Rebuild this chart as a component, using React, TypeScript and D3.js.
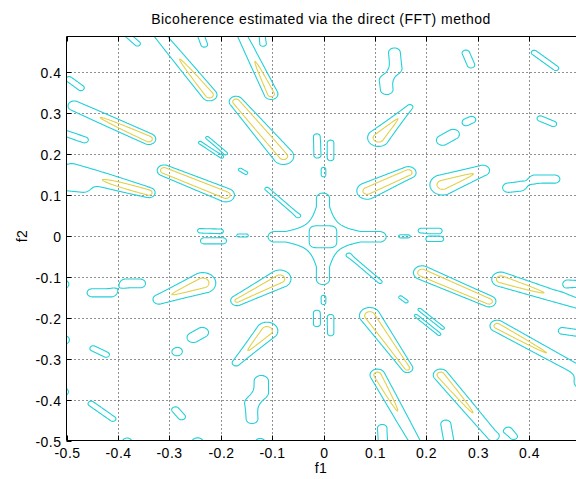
import React, { useMemo } from "react";
import * as d3 from "d3";

// ---------- data ----------
const titleText = "Bicoherence estimated via the direct (FFT) method";
const xLabel = "f1";
const yLabel = "f2";
const xTicks = [-0.5, -0.4, -0.3, -0.2, -0.1, 0, 0.1, 0.2, 0.3, 0.4];
const yTicks = [-0.5, -0.4, -0.3, -0.2, -0.1, 0, 0.1, 0.2, 0.3, 0.4];
const xDomain = [-0.5, 0.5];
const yDomain = [-0.5, 0.4875];
const contourLevels = [0.5, 0.8]; // outer (cyan) and inner (yellow)

// strong ridges: [f1 start, f2 start, f1 end, f2 end, width start, width end, peak start, peak end]
const strongRidges: number[][] = [
  [-0.338, 0.52, -0.222, 0.345, 0.013, 0.013, 0.65, 0.95],
  [-0.17, 0.52, -0.102, 0.347, 0.011, 0.012, 0.65, 0.93],
  [-0.17, 0.328, -0.078, 0.195, 0.012, 0.019, 0.93, 0.88],
  [-0.485, 0.318, -0.34, 0.237, 0.014, 0.012, 0.72, 0.95],
  [-0.49, 0.158, -0.34, 0.106, 0.023, 0.011, 0.7, 0.95],
  [-0.31, 0.16, -0.19, 0.1, 0.012, 0.015, 0.95, 0.93],
  [0.107, 0.24, 0.168, 0.315, 0.019, 0.007, 0.93, 0.72],
  [0.085, 0.11, 0.165, 0.155, 0.019, 0.013, 0.88, 0.92],
  [0.232, 0.125, 0.31, 0.16, 0.023, 0.014, 0.9, 0.77],
  [-0.32, -0.155, -0.235, -0.115, 0.013, 0.023, 0.75, 0.92],
  [-0.168, -0.158, -0.085, -0.105, 0.012, 0.02, 0.85, 0.9],
  [-0.17, -0.31, -0.11, -0.232, 0.009, 0.019, 0.72, 0.93],
  [0.192, -0.09, 0.322, -0.16, 0.015, 0.012, 0.95, 0.93],
  [0.345, -0.106, 0.52, -0.175, 0.016, 0.014, 0.92, 0.67],
  [0.338, -0.22, 0.52, -0.345, 0.013, 0.013, 0.9, 0.71],
  [0.09, -0.195, 0.163, -0.323, 0.018, 0.01, 0.93, 0.9],
  [0.105, -0.34, 0.19, -0.53, 0.013, 0.013, 0.93, 0.65],
  [0.228, -0.34, 0.33, -0.49, 0.013, 0.013, 0.93, 0.72],
];

// weak blobs (peak 0.7): [f1 start, f2 start, f1 end, f2 end, width]
const weakPeak = 0.7;
const weakBlobs: number[][] = [
  [-0.38, 0.49, -0.362, 0.47, 0.007],
  [-0.24, 0.495, -0.232, 0.468, 0.008],
  [-0.12, 0.495, -0.117, 0.47, 0.007],
  [-0.495, 0.383, -0.472, 0.362, 0.008],
  [-0.505, 0.252, -0.465, 0.235, 0.009],
  [-0.505, 0.122, -0.468, 0.118, 0.011],
  [-0.24, 0.228, -0.198, 0.193, 0.004],
  [-0.226, 0.24, -0.19, 0.202, 0.004],
  [-0.162, 0.162, -0.151, 0.154, 0.0045],
  [-0.11, 0.115, -0.05, 0.05, 0.005],
  [-0.24, 0.013, -0.2, 0.012, 0.006],
  [-0.232, -0.012, -0.196, -0.012, 0.009],
  [-0.165, 0.001, -0.15, 0.001, 0.0045],
  [0.138, 0.448, 0.141, 0.41, 0.014],
  [0.121, 0.38, 0.123, 0.358, 0.015],
  [0.124, 0.497, 0.124, 0.497, 0.008],
  [0.277, 0.447, 0.287, 0.418, 0.009],
  [0.258, 0.498, 0.258, 0.498, 0.007],
  [0.41, 0.448, 0.452, 0.41, 0.007],
  [0.505, 0.388, 0.505, 0.388, 0.011],
  [0.232, 0.234, 0.252, 0.248, 0.015],
  [0.279, 0.279, 0.288, 0.284, 0.01],
  [0.36, 0.118, 0.382, 0.121, 0.014],
  [0.412, 0.139, 0.45, 0.139, 0.012],
  [0.422, 0.287, 0.447, 0.274, 0.008],
  [0.505, 0.253, 0.505, 0.253, 0.015],
  [-0.013, 0.243, -0.012, 0.197, 0.008],
  [0.014, 0.228, 0.014, 0.19, 0.0075],
  [0, 0.163, 0, 0.149, 0.0055],
  [0.19, 0.013, 0.225, 0.013, 0.007],
  [0.205, -0.008, 0.228, -0.008, 0.007],
  [0.15, -0.001, 0.165, -0.001, 0.0045],
  [-0.121, -0.355, -0.121, -0.382, 0.017],
  [-0.141, -0.41, -0.139, -0.447, 0.014],
  [-0.253, -0.248, -0.236, -0.236, 0.015],
  [-0.285, -0.283, -0.285, -0.283, 0.012],
  [-0.385, -0.116, -0.357, -0.116, 0.013],
  [-0.45, -0.139, -0.413, -0.139, 0.012],
  [-0.448, -0.275, -0.423, -0.29, 0.008],
  [-0.505, -0.254, -0.505, -0.254, 0.013],
  [-0.507, -0.118, -0.507, -0.118, 0.014],
  [-0.507, -0.381, -0.507, -0.381, 0.013],
  [-0.452, -0.41, -0.41, -0.447, 0.0075],
  [-0.288, -0.425, -0.276, -0.442, 0.009],
  [-0.382, -0.503, -0.382, -0.503, 0.011],
  [-0.245, -0.505, -0.245, -0.505, 0.014],
  [-0.123, -0.505, -0.123, -0.505, 0.012],
  [0.475, -0.116, 0.51, -0.118, 0.01],
  [0.465, -0.232, 0.51, -0.24, 0.01],
  [0.5, -0.36, 0.5, -0.36, 0.013],
  [0.114, -0.47, 0.116, -0.51, 0.011],
  [0.238, -0.46, 0.245, -0.51, 0.012],
  [0.36, -0.475, 0.37, -0.49, 0.009],
  [0, -0.15, 0, -0.163, 0.0055],
  [-0.013, -0.188, -0.013, -0.215, 0.008],
  [0.014, -0.198, 0.014, -0.238, 0.0075],
  [0.187, -0.18, 0.232, -0.225, 0.004],
  [0.18, -0.195, 0.225, -0.24, 0.004],
  [0.15, -0.15, 0.161, -0.16, 0.0045],
  [0.05, -0.048, 0.11, -0.112, 0.005],
];

// central cross: centre, hyperbolic core, hole, peak
const crossCentre = [-0.001, -0.002];
const crossCore = [0.0012, 0.1, 0.025, 0.72]; // [hyperbola constant, core reach, hole half-size, peak]
// arm width and lengths: [width, left, right, down, up]
const crossArms = [0.015, 0.094, 0.11, 0.104, 0.094];

// ---------- layout ----------
const W = 576;
const H = 479;
const left = 66.5;
const right = 580.5;
const top = 36.5;
const bottom = 440.5;
const font = "'Liberation Sans', Arial, Helvetica, sans-serif";
const cyan = "#22d0d8";
const yellow = "#e2d048";

const g0 = -0.56;
const step = 0.0015;
const n = Math.round((0.56 - g0) / step) + 1;

function addRidges(field: Float64Array, list: number[][]) {
  for (const r of list) {
    const [ax, ay, bx, by, wa, wb, pa, pb] = r;
    const pad = 4.5 * Math.max(wa, wb);
    const i0 = Math.max(0, Math.floor((Math.min(ax, bx) - pad - g0) / step));
    const i1 = Math.min(n - 1, Math.ceil((Math.max(ax, bx) + pad - g0) / step));
    const j0 = Math.max(0, Math.floor((Math.min(ay, by) - pad - g0) / step));
    const j1 = Math.min(n - 1, Math.ceil((Math.max(ay, by) + pad - g0) / step));
    const dx = bx - ax;
    const dy = by - ay;
    const L2 = dx * dx + dy * dy;
    for (let j = j0; j <= j1; j++) {
      const y = g0 + j * step;
      for (let i = i0; i <= i1; i++) {
        const x = g0 + i * step;
        let t = L2 > 0 ? ((x - ax) * dx + (y - ay) * dy) / L2 : 0;
        t = t < 0 ? 0 : t > 1 ? 1 : t;
        const ex = ax + t * dx - x;
        const ey = ay + t * dy - y;
        const w = wa + t * (wb - wa);
        const p = pa + t * (pb - pa);
        field[j * n + i] += p * Math.exp(-(ex * ex + ey * ey) / (2 * w * w));
      }
    }
  }
}

function addCross(field: Float64Array) {
  const [cx, cy] = crossCentre;
  const [k, R, hole, p] = crossCore;
  const [aw, aL, aR, aD, aU] = crossArms;
  const pad = Math.max(aL, aR, aD, aU) + 5 * aw;
  const i0 = Math.max(0, Math.floor((cx - pad - g0) / step));
  const i1 = Math.min(n - 1, Math.ceil((cx + pad - g0) / step));
  const j0 = Math.max(0, Math.floor((cy - pad - g0) / step));
  const j1 = Math.min(n - 1, Math.ceil((cy + pad - g0) / step));
  for (let j = j0; j <= j1; j++) {
    const y = g0 + j * step - cy;
    for (let i = i0; i <= i1; i++) {
      const x = g0 + i * step - cx;
      const q = x * y;
      const r2 = (x * x + y * y) / (R * R);
      const core = Math.exp(-(q * q) / (2 * k * k)) * Math.exp(-r2 * r2 * r2 * r2 * Math.LN2);
      const ex = x < 0 ? Math.max(-x - aL, 0) : Math.max(x - aR, 0);
      const hArm = Math.exp(-(y * y + ex * ex) / (2 * aw * aw));
      const ey = y < 0 ? Math.max(-y - aD, 0) : Math.max(y - aU, 0);
      const vArm = Math.exp(-(x * x + ey * ey) / (2 * aw * aw));
      const rp = Math.pow(x * x * x * x + y * y * y * y, 0.25) + 1e-9;
      const holeF = 1 / (1 + Math.pow(hole / rp, 12));
      field[j * n + i] += p * Math.max(core, hArm, vArm) * holeF;
    }
  }
}

export default function App() {
  const xs = d3.scaleLinear().domain(xDomain).range([left, right]);
  const ys = d3.scaleLinear().domain(yDomain).range([bottom, top]);

  const paths = useMemo(() => {
    const all = new Float64Array(n * n);
    const weak = weakBlobs.map((b) => [b[0], b[1], b[2], b[3], b[4], b[4], weakPeak, weakPeak]);
    addRidges(all, strongRidges);
    addRidges(all, weak);
    addCross(all);
    const strong = new Float64Array(n * n);
    addRidges(strong, strongRidges);

    const proj = d3.geoTransform({
      point: function (x: number, y: number) {
        (this as any).stream.point(xs(g0 + (x - 0.5) * step), ys(g0 + (y - 0.5) * step));
      },
    });
    const path = d3.geoPath(proj as any);
    const gen = d3.contours().size([n, n]);
    const outer = gen.thresholds([contourLevels[0]])(Array.from(all) as any);
    const inner = gen.thresholds([contourLevels[1]])(Array.from(strong) as any);
    return {
      outer: outer.map((c) => path(c as any) || ""),
      inner: inner.map((c) => path(c as any) || ""),
    };
  }, []);

  return (
    <svg
      width={W}
      height={H}
      style={{ position: "absolute", left: 0, top: 0, background: "#fff" }}
      fontFamily={font}
    >
      <defs>
        <clipPath id="plotClip">
          <rect x={left} y={top} width={right - left} height={bottom - top} />
        </clipPath>
      </defs>
      <rect x={0} y={0} width={W} height={H} fill="#fff" />
      <g clipPath="url(#plotClip)">
        {xTicks.slice(1).map((t) => (
          <line key={"gx" + t} x1={Math.round(xs(t)) + 0.5} x2={Math.round(xs(t)) + 0.5} y1={top} y2={bottom}
            stroke="#222" strokeWidth={1} strokeDasharray="1,3" />
        ))}
        {yTicks.slice(1).map((t) => (
          <line key={"gy" + t} x1={left} x2={right} y1={Math.round(ys(t)) + 0.5} y2={Math.round(ys(t)) + 0.5}
            stroke="#222" strokeWidth={1} strokeDasharray="1,3" />
        ))}
        {paths.outer.map((d, i) => (
          <path key={"o" + i} d={d} fill="none" stroke={cyan} strokeWidth={1.1} />
        ))}
        {paths.inner.map((d, i) => (
          <path key={"i" + i} d={d} fill="none" stroke={yellow} strokeWidth={1.1} />
        ))}
      </g>
      {/* axes box */}
      <line x1={left} x2={left} y1={top} y2={bottom} stroke="#000" />
      <line x1={left} x2={W} y1={top} y2={top} stroke="#000" />
      <line x1={left} x2={W} y1={bottom} y2={bottom} stroke="#000" />
      {xTicks.map((t) => {
        const x = Math.round(xs(t)) + 0.5;
        return (
          <g key={"tx" + t}>
            <line x1={x} x2={x} y1={bottom} y2={bottom - 5} stroke="#000" />
            <line x1={x} x2={x} y1={top} y2={top + 5} stroke="#000" />
            <text x={x} y={458} textAnchor="middle" fontSize={14} letterSpacing={0.5} fill="#000">
              {String(t)}
            </text>
          </g>
        );
      })}
      {yTicks.map((t) => {
        const y = Math.round(ys(t)) + 0.5;
        return (
          <g key={"ty" + t}>
            <line x1={left} x2={left + 5} y1={y} y2={y} stroke="#000" />
            <text x={61.5} y={y + 5} textAnchor="end" fontSize={14} letterSpacing={0.5} fill="#000">
              {String(t)}
            </text>
          </g>
        );
      })}
      <text x={321} y={23.5} textAnchor="middle" fontSize={14} letterSpacing={0.5} fill="#000">
        {titleText}
      </text>
      <text x={321} y={473} textAnchor="middle" fontSize={14} letterSpacing={0.5} fill="#000">
        {xLabel}
      </text>
      <text transform="translate(27,236) rotate(-90)" textAnchor="middle" fontSize={14} letterSpacing={0.5} fill="#000">
        {yLabel}
      </text>
    </svg>
  );
}
